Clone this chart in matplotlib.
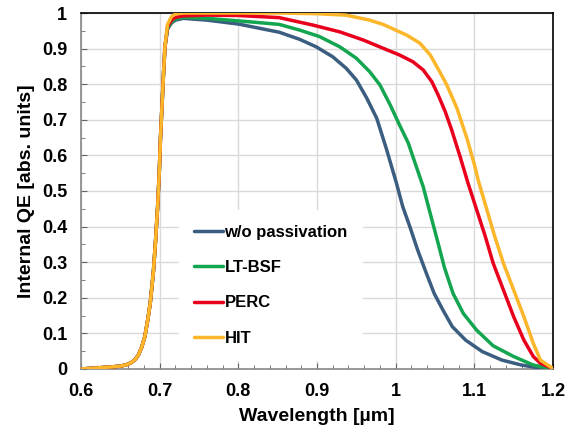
import matplotlib
matplotlib.use("Agg")
import matplotlib.pyplot as plt
from matplotlib.ticker import MultipleLocator, FuncFormatter

plt.rcParams['font.family'] = ['Liberation Sans', 'DejaVu Sans']
plt.rcParams['font.weight'] = 'bold'

# shared rising edge (wavelength in µm, QE)
rise_wl = [0.600, 0.620, 0.640, 0.650, 0.658, 0.664, 0.669, 0.673, 0.677, 0.681, 0.685, 0.688, 0.692,
           0.695, 0.6975, 0.6995, 0.701, 0.703, 0.705, 0.7067]
rise_qe = [0.000, 0.003, 0.006, 0.008, 0.012, 0.018, 0.027, 0.040, 0.060, 0.090, 0.140, 0.185, 0.273,
           0.368, 0.460, 0.554, 0.648, 0.742, 0.835, 0.905]

blue_wl = [0.710, 0.715, 0.720, 0.730, 0.760, 0.800, 0.852, 0.878, 0.899, 0.920, 0.937, 0.950, 0.963,
           0.976, 0.988, 1.001, 1.009, 1.018, 1.028, 1.039, 1.049, 1.060, 1.072, 1.089, 1.110, 1.135,
           1.160, 1.185, 1.200]
blue_qe = [0.955, 0.972, 0.980, 0.985, 0.980, 0.969, 0.946, 0.926, 0.905, 0.877, 0.845, 0.812, 0.762,
           0.704, 0.620, 0.522, 0.456, 0.400, 0.334, 0.269, 0.212, 0.166, 0.119, 0.081, 0.049, 0.025,
           0.011, 0.002, 0.000]

green_wl = [0.710, 0.715, 0.720, 0.730, 0.760, 0.800, 0.852, 0.878, 0.903, 0.929, 0.950, 0.967, 0.980,
            0.993, 1.005, 1.016, 1.022, 1.035, 1.045, 1.054, 1.062, 1.073, 1.086, 1.103, 1.124, 1.150,
            1.175, 1.196, 1.200]
green_qe = [0.958, 0.975, 0.983, 0.988, 0.985, 0.978, 0.968, 0.952, 0.934, 0.905, 0.873, 0.835, 0.798,
            0.742, 0.685, 0.635, 0.596, 0.512, 0.428, 0.353, 0.285, 0.212, 0.156, 0.109, 0.065, 0.035,
            0.011, 0.002, 0.001]

red_wl = [0.710, 0.715, 0.720, 0.730, 0.760, 0.800, 0.852, 0.895, 0.929, 0.959, 0.984, 1.005, 1.022,
          1.035, 1.046, 1.054, 1.063, 1.071, 1.082, 1.092, 1.103, 1.114, 1.124, 1.137, 1.150, 1.163,
          1.175, 1.184, 1.196, 1.200]
red_qe = [0.962, 0.980, 0.988, 0.992, 0.994, 0.993, 0.987, 0.966, 0.947, 0.924, 0.901, 0.882, 0.863,
          0.840, 0.807, 0.770, 0.723, 0.673, 0.596, 0.522, 0.447, 0.372, 0.297, 0.222, 0.147, 0.081,
          0.035, 0.016, 0.005, 0.002]

yellow_wl = [0.710, 0.715, 0.720, 0.730, 0.800, 0.852, 0.900, 0.937, 0.967, 0.984, 1.000, 1.014, 1.031,
             1.044, 1.056, 1.065, 1.078, 1.091, 1.100, 1.105, 1.116, 1.126, 1.137, 1.150, 1.163, 1.175,
             1.184, 1.196, 1.200]
yellow_qe = [0.968, 0.990, 0.997, 1.000, 1.000, 1.000, 0.998, 0.994, 0.980, 0.968, 0.952, 0.938, 0.915,
             0.882, 0.835, 0.798, 0.732, 0.645, 0.575, 0.530, 0.447, 0.372, 0.297, 0.222, 0.147, 0.072,
             0.025, 0.007, 0.002]

labels = ["w/o passivation", "LT-BSF", "PERC", "HIT"]
colors = ["#3a5d80", "#14a550", "#e8001c", "#fcb62a"]

fig = plt.figure(figsize=(5.8, 4.28), dpi=100)
ax = fig.add_axes([0.1397, 0.1379, 0.8137, 0.8317])

series = [(blue_wl, blue_qe), (green_wl, green_qe), (red_wl, red_qe), (yellow_wl, yellow_qe)]
for (wl, qe), lab, col in zip(series, labels, colors):
    ax.plot(rise_wl + wl, rise_qe + qe, color=col, lw=2.5, label=lab,
            solid_joinstyle='round', solid_capstyle='round', zorder=3)

ax.set_xlim(0.6, 1.2)
ax.set_ylim(0, 1)
ax.xaxis.set_major_locator(MultipleLocator(0.1))
ax.xaxis.set_minor_locator(MultipleLocator(0.02))
ax.yaxis.set_major_locator(MultipleLocator(0.1))
ax.yaxis.set_minor_locator(MultipleLocator(0.05))
fmt = FuncFormatter(lambda v, p: ("%.1f" % v).rstrip('0').rstrip('.') if abs(v) > 1e-9 else "0")
ax.xaxis.set_major_formatter(fmt)
ax.yaxis.set_major_formatter(fmt)
ax.grid(True, which='major', color='#d9d9d9', lw=1.0, zorder=0)
ax.set_axisbelow(True)
ax.tick_params(which='both', direction='in', top=False, right=False, labelsize=13, colors='#666666',
               labelcolor='black')
ax.tick_params(which='major', length=4)
ax.tick_params(axis='x', which='major', pad=10)
ax.tick_params(axis='y', which='major', pad=10)
ax.tick_params(which='minor', length=3)
for lab in ax.get_xticklabels() + ax.get_yticklabels():
    lab.set_fontweight('bold')

ax.spines['left'].set_color('#888888')
ax.spines['bottom'].set_color('#888888')
ax.spines['top'].set_color('black')
ax.spines['right'].set_color('black')
for s in ax.spines.values():
    s.set_linewidth(1.2)

ax.set_xlabel("Wavelength [µm]", fontsize=14, fontweight='bold', labelpad=6)
ax.set_ylabel("Internal QE [abs. units]", fontsize=14, fontweight='bold', labelpad=5)

leg = ax.legend(loc='center left', bbox_to_anchor=(0.189, 0.235), frameon=True, fancybox=False,
                edgecolor='white', facecolor='white', framealpha=1.0,
                prop={'weight': 'bold', 'size': 12}, handlelength=1.75, handletextpad=0.1,
                labelspacing=1.22, borderpad=0.9)
leg.get_frame().set_linewidth(0)

fig.savefig("out.png", dpi=100)
